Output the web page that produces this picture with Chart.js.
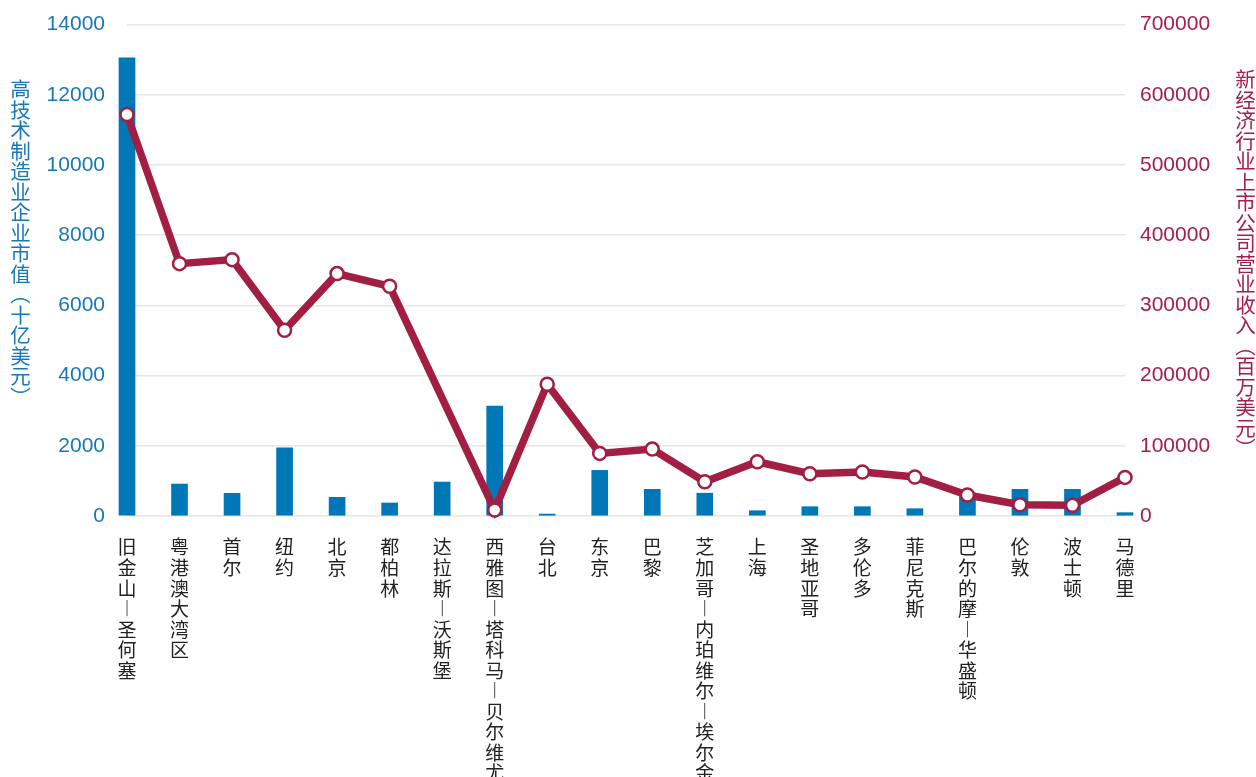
<!DOCTYPE html>
<html>
<head>
<meta charset="utf-8">
<script src="https://cdn.jsdelivr.net/npm/chart.js@4/dist/chart.umd.min.js"></script>
<style>
  html, body { margin: 0; padding: 0; background: #fff; overflow: hidden; }
  #wrap { position: relative; width: 1256px; height: 777px; overflow: hidden; }
  #myChart { position: absolute; left: 0; top: -10px; }
  .ttl {
    position: absolute;
    writing-mode: vertical-rl;
    text-orientation: upright;
    font-family: "Noto Sans CJK SC", sans-serif;
    font-size: 20.5px;
    line-height: 1;
  }
  #ttlLeft { left: 10px; top: 79px; color: #1878b4; }
  #ttlRight { left: 1235px; top: 69px; color: #a4204a; }
</style>
</head>
<body>
<div id="wrap">
  <canvas id="myChart" width="1256" height="787"></canvas>
  <div class="ttl" id="ttlLeft">高技术制造业企业市值（十亿美元）</div>
  <div class="ttl" id="ttlRight">新经济行业上市公司营业收入（百万美元）</div>
</div>
<script>
const cities = ['旧金山-圣何塞', '粤港澳大湾区', '首尔', '纽约', '北京', '都柏林', '达拉斯-沃斯堡',
  '西雅图-塔科马-贝尔维尤', '台北', '东京', '巴黎', '芝加哥-内珀维尔-埃尔金', '上海', '圣地亚哥',
  '多伦多', '菲尼克斯', '巴尔的摩-华盛顿', '伦敦', '波士顿', '马德里'];
// left axis, bars
const marketValue = [13050, 910, 646, 1944, 532, 370, 968, 3130, 55, 1300, 760, 650, 150, 265,
  265, 208, 650, 760, 760, 95];
// right axis, line (达拉斯 has no value)
const revenue = [572000, 359500, 365200, 264600, 345300, 327200, null, 8500, 187800, 89200, 95300,
  48800, 77300, 60200, 62600, 55500, 29900, 16100, 15200, 55000];
const leftTicks = [0, 2000, 4000, 6000, 8000, 10000, 12000, 14000];
const rightTicks = [0, 100000, 200000, 300000, 400000, 500000, 600000, 700000];

const blue = '#0077b6';
const red = '#a21e43';

// vertical labels: one character per line, dash shown as vertical bar
const labels = cities.map(c => c.replace(/-/g, '︱').split(''));

const ctx = document.getElementById('myChart').getContext('2d');
const myChart = new Chart(ctx, {
  type: 'bar',
  data: {
    labels: labels,
    datasets: [{
      type: 'line',
      data: revenue,
      yAxisID: 'y1',
      borderColor: red,
      borderWidth: 7.5,
      pointRadius: 6.5,
      pointBorderWidth: 2.5,
      pointBackgroundColor: '#fff',
      pointBorderColor: red,
      spanGaps: true,
      clip: false,
      order: 1
    }, {
      data: marketValue,
      yAxisID: 'y',
      backgroundColor: blue,
      barThickness: 16,
      clip: false,
      order: 2
    }]
  },
  options: {
    responsive: false,
    animation: false,
    layout: { padding: { left: 40, top: 5, right: 0, bottom: 0 } },
    plugins: { legend: { display: false }, tooltip: { enabled: false } },
    scales: {
      x: {
        offset: false,
        grid: { display: false },
        border: { display: false },
        afterFit: s => { s.height = 261; },
        ticks: {
          autoSkip: false, maxRotation: 0, minRotation: 0, padding: 13,
          color: '#222',
          font: { family: '"Noto Sans CJK SC", sans-serif', size: 19, lineHeight: 1.08 }
        }
      },
      y: {
        position: 'left',
        min: 0, max: 14000,
        afterFit: s => { s.width = 87; },
        afterBuildTicks: s => { s.ticks = leftTicks.map(v => ({ value: v })); },
        grid: { color: '#e6e6e6', lineWidth: 1.5, drawTicks: false },
        border: { display: false },
        ticks: {
          padding: 22, color: '#1878b4',
          callback: v => String(v),
          font: { family: '"Liberation Sans", Arial, sans-serif', size: 21 }
        }
      },
      y1: {
        position: 'right',
        min: 0, max: 700000,
        afterFit: s => { s.width = 131; },
        afterBuildTicks: s => { s.ticks = rightTicks.map(v => ({ value: v })); },
        grid: { drawOnChartArea: false, drawTicks: false },
        border: { display: false },
        ticks: {
          padding: 15, color: '#a4204a',
          callback: v => String(v),
          font: { family: '"Liberation Sans", Arial, sans-serif', size: 21 }
        }
      }
    }
  }
});
</script>
</body>
</html>
